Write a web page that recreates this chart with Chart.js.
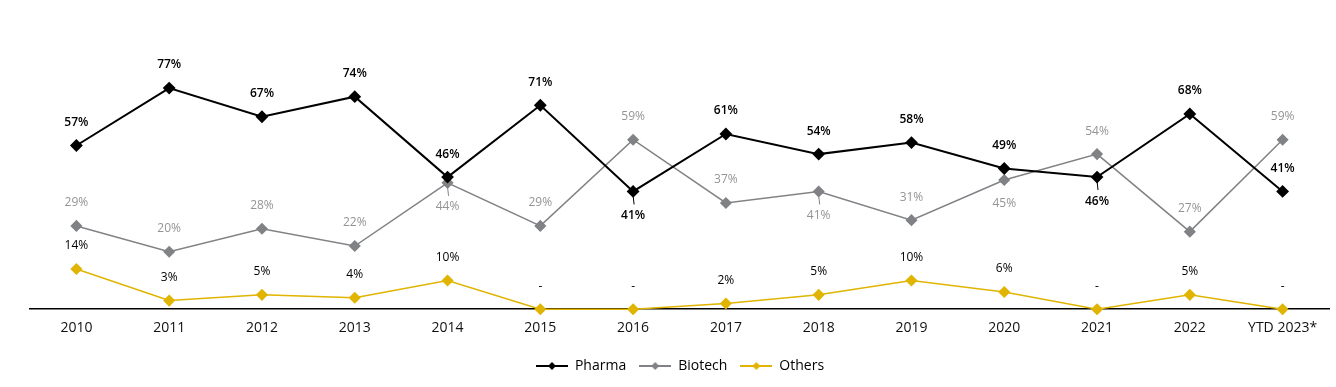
<!DOCTYPE html>
<html>
<head>
<meta charset="utf-8">
<script src="https://cdn.jsdelivr.net/npm/chart.js@4.4.0/dist/chart.umd.min.js"></script>
<style>
  html, body { margin: 0; padding: 0; background: #fff; }
  #wrap { width: 1336px; height: 387px; }
</style>
</head>
<body>
<div id="wrap"><canvas id="grafico"></canvas></div>
<script>
// categorias y valores (en %)
const anios = ["2010", "2011", "2012", "2013", "2014", "2015", "2016", "2017", "2018", "2019", "2020", "2021", "2022", "YTD 2023*"];
const pharma = [57, 77, 67, 74, 46, 71, 41, 61, 54, 58, 49, 46, 68, 41];
const biotech = [29, 20, 28, 22, 44, 29, 59, 37, 41, 31, 45, 54, 27, 59];
const others = [14, 3, 5, 4, 10, 0, 0, 2, 5, 10, 6, 0, 5, 0];

// donde va cada etiqueta: "a" arriba, "b" abajo, "bl" abajo con linea guia
const posPharma = ["a", "a", "a", "a", "a", "a", "bl", "a", "a", "a", "a", "bl", "a", "a"];
const posBiotech = ["a", "a", "a", "a", "bl", "a", "a", "a", "bl", "a", "b", "a", "a", "a"];
const posOthers = ["a", "a", "a", "a", "a", "a", "a", "a", "a", "a", "a", "a", "a", "a"];

const colores = { pharma: "#000000", biotech: "#808285", others: "#e0b400" };

// icono de leyenda: linea con rombo
function iconoLeyenda(color, grosor) {
  const c = document.createElement("canvas");
  c.width = 32; c.height = 12;
  const ctx = c.getContext("2d");
  ctx.strokeStyle = color;
  ctx.lineWidth = grosor;
  ctx.beginPath();
  ctx.moveTo(0, 6); ctx.lineTo(32, 6);
  ctx.stroke();
  ctx.fillStyle = color;
  ctx.beginPath();
  ctx.moveTo(16, 2); ctx.lineTo(20, 6); ctx.lineTo(16, 10); ctx.lineTo(12, 6);
  ctx.closePath();
  ctx.fill();
  return c;
}

// plugin sencillo para escribir los valores
const etiquetas = {
  id: "etiquetas",
  afterDatasetsDraw(chart) {
    const ctx = chart.ctx;
    chart.data.datasets.forEach((ds, i) => {
      const meta = chart.getDatasetMeta(i);
      meta.data.forEach((pt, j) => {
        const v = ds.data[j];
        const texto = v === 0 ? "-" : v + "%";
        const pos = ds.posEtiqueta[j];
        ctx.save();
        ctx.font = ds.fuenteEtiqueta;
        ctx.fillStyle = ds.colorEtiqueta;
        ctx.textAlign = "center";
        ctx.textBaseline = "middle";
        let y = pt.y - 23;
        if (pos !== "a") y = pt.y + 24;
        if (pos === "bl") {
          ctx.strokeStyle = ds.borderColor;
          ctx.lineWidth = 1;
          ctx.beginPath();
          ctx.moveTo(pt.x, pt.y + 4);
          ctx.lineTo(pt.x + 1, pt.y + 13);
          ctx.stroke();
        }
        ctx.fillText(texto, pt.x, y);
        ctx.restore();
      });
    });
  }
};

new Chart(document.getElementById("grafico"), {
  type: "line",
  data: {
    labels: anios,
    datasets: [
      {
        label: "Pharma", data: pharma, borderColor: colores.pharma, backgroundColor: colores.pharma,
        borderWidth: 2, pointStyle: "rectRot", pointRadius: 5, pointHoverRadius: 5,
        posEtiqueta: posPharma, colorEtiqueta: "#000", fuenteEtiqueta: "600 12px 'Open Sans'"
      },
      {
        label: "Biotech", data: biotech, borderColor: colores.biotech, backgroundColor: colores.biotech,
        borderWidth: 1.5, pointStyle: "rectRot", pointRadius: 5, pointHoverRadius: 5,
        posEtiqueta: posBiotech, colorEtiqueta: "#949494", fuenteEtiqueta: "12px 'Open Sans'"
      },
      {
        label: "Others", data: others, borderColor: colores.others, backgroundColor: colores.others,
        borderWidth: 1.5, pointStyle: "rectRot", pointRadius: 5, pointHoverRadius: 5,
        posEtiqueta: posOthers, colorEtiqueta: "#000", fuenteEtiqueta: "12px 'Open Sans'"
      }
    ]
  },
  options: {
    responsive: true,
    maintainAspectRatio: false,
    animation: false,
    clip: false,
    layout: { padding: { top: 22, left: 30, right: 6, bottom: 4 } },
    scales: {
      x: {
        offset: true,
        grid: { display: false, drawTicks: false },
        border: { color: "#000", width: 1.5 },
        ticks: { color: "#111", font: { family: "'Open Sans'", size: 14 }, padding: 10 }
      },
      y: { display: false, min: 0, max: 100 }
    },
    plugins: {
      tooltip: { enabled: false },
      legend: {
        position: "bottom",
        labels: {
          usePointStyle: true,
          pointStyleWidth: 32,
          boxHeight: 12,
          color: "#111",
          font: { family: "'Open Sans'", size: 14 },
          padding: 13,
          generateLabels(chart) {
            return chart.data.datasets.map((ds, i) => ({
              text: ds.label,
              pointStyle: iconoLeyenda(ds.borderColor, 2),
              fillStyle: ds.borderColor,
              strokeStyle: ds.borderColor,
              lineWidth: 0,
              hidden: false,
              datasetIndex: i
            }));
          }
        }
      }
    }
  },
  plugins: [etiquetas]
});
</script>
</body>
</html>
